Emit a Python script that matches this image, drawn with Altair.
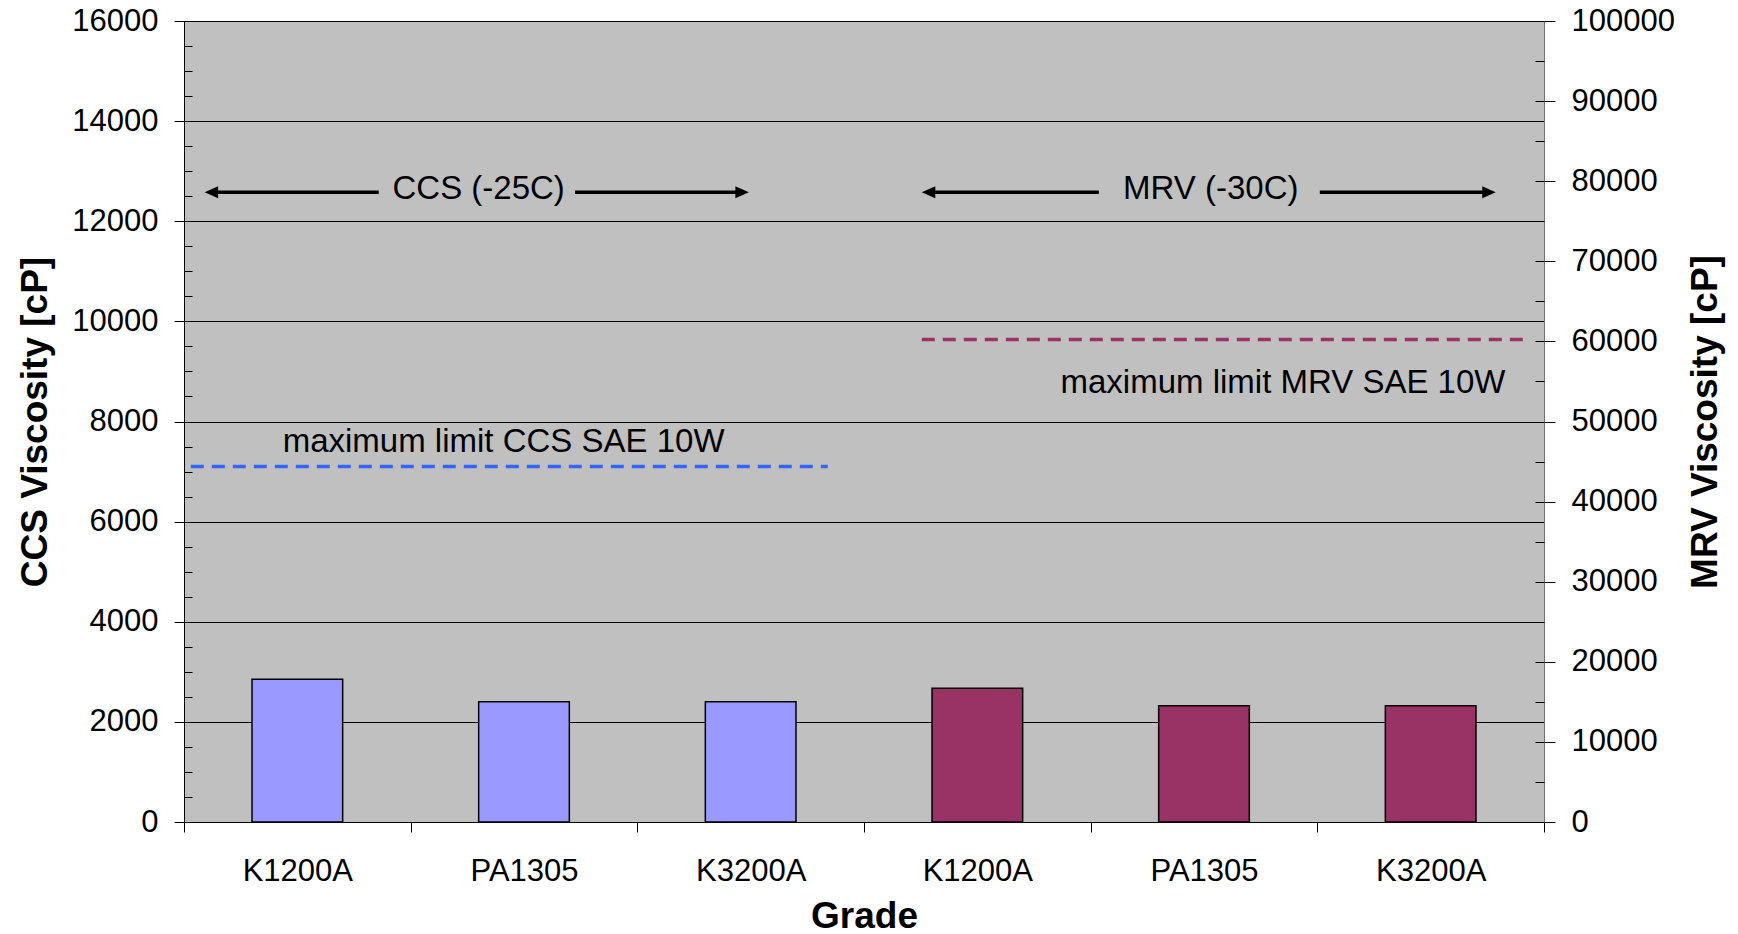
import altair as alt
import pandas as pd

# ---------------- data ----------------
grades = ["K1200A", "PA1305", "K3200A"]
ccs_values = [2850, 2400, 2400]          # cP, left axis
mrv_values = [16700, 14500, 14500]       # cP, right axis
slots = [f"CCS|{g}" for g in grades] + [f"MRV|{g}" for g in grades]

ccs_ticks = list(range(0, 16001, 2000))
ccs_minor = list(range(0, 16001, 500))
mrv_ticks = list(range(0, 100001, 10000))
mrv_minor = list(range(0, 100001, 5000))

# limit lines (x in category-slot units 0..6)
ccs_limit = [7100]
ccs_limit_x = [0.03, 2.84]
mrv_limit = [60250]
mrv_limit_x = [3.255, 5.91]

# limit labels
limit_labels = ["maximum limit CCS SAE 10W", "maximum limit MRV SAE 10W"]
limit_label_x = [1.41, 5.83]
limit_label_y = [7400, 8560]        # in CCS units
limit_label_align = ["center", "right"]

# test-range arrows
arrow_labels = ["CCS (-25C)", "MRV (-30C)"]
arrow_label_x = [1.30, 4.53]
arrow_label_y = [12440, 12440]
arrow_y = [12580, 12580]
arrow_left_tip = [0.091, 3.255]
arrow_left_end = [0.859, 4.036]
arrow_right_start = [1.725, 5.011]
arrow_right_tip = [2.492, 5.787]

FONT = "Liberation Sans"
W, H = 1360, 801

ccs_df = pd.DataFrame({"slot": slots[:3], "value": ccs_values})
mrv_df = pd.DataFrame({"slot": slots[3:], "value": mrv_values})

xband = alt.Scale(domain=slots, paddingInner=0, paddingOuter=0)
xq = alt.Scale(domain=[0, 6], nice=False, zero=False)
yccs = alt.Scale(domain=[0, 16000], nice=False)
ymrv = alt.Scale(domain=[0, 100000], nice=False)

ccs_bars = alt.Chart(ccs_df).mark_bar(
    width=alt.RelativeBandSize(0.4), fill="#9999FF", stroke="black", strokeWidth=1.5
).encode(
    x=alt.X("slot:N", scale=xband, sort=slots, axis=alt.Axis(
        tickBand="extent", labelExpr="split(datum.label, '|')[1]", labelAngle=0,
        labelFontSize=31, labelColor="black", labelPadding=24, labelFont=FONT,
        tickSize=10, tickColor="black", domainColor="black", grid=False,
        title="Grade", titleFontSize=37, titleFontWeight="bold", titleFont=FONT,
        titleColor="black", titleBaseline="alphabetic", titleY=105, titleX=W / 2,
    )),
    y=alt.Y("value:Q", scale=yccs, axis=alt.Axis(
        values=ccs_ticks, format="d", grid=True, gridColor="black", gridWidth=1,
        labelFontSize=31, labelColor="black", labelPadding=16, labelFont=FONT,
        tickSize=10, tickColor="black", domainColor="black",
        title="CCS Viscosity [cP]", titleFontSize=37, titleFontWeight="bold",
        titleFont=FONT, titleColor="black", titleAngle=270, titleBaseline="alphabetic",
        titleX=-138, titleY=H / 2, titleAlign="center",
    )),
)

mrv_bars = alt.Chart(mrv_df).mark_bar(
    width=alt.RelativeBandSize(0.4), fill="#993366", stroke="black", strokeWidth=1.5
).encode(
    x=alt.X("slot:N", scale=xband, sort=slots, axis=None),
    y=alt.Y("value:Q", scale=ymrv, axis=alt.Axis(
        orient="right", values=mrv_ticks, format="d", grid=False,
        labelFontSize=31, labelColor="black", labelPadding=16, labelFont=FONT,
        tickSize=11, tickColor="black", domainColor="#707070",
        title="MRV Viscosity [cP]", titleFontSize=37, titleFontWeight="bold",
        titleFont=FONT, titleColor="black", titleAngle=270, titleBaseline="alphabetic",
        titleX=172, titleY=H / 2, titleAlign="center",
    )),
)

ccs_line_df = pd.DataFrame({"x1": [ccs_limit_x[0]], "x2": [ccs_limit_x[1]], "y": ccs_limit})
ccs_line = alt.Chart(ccs_line_df).mark_rule(
    color="#3366FF", strokeWidth=3.5, strokeDash=[13, 8]
).encode(
    x=alt.X("x1:Q", scale=xq, axis=None), x2="x2:Q",
    y=alt.Y("y:Q", scale=yccs, axis=alt.Axis(
        orient="left", values=ccs_minor, offset=-8, tickSize=8, tickColor="black",
        labels=False, domain=False, grid=False, title=None)),
)

mrv_line_df = pd.DataFrame({"x1": [mrv_limit_x[0]], "x2": [mrv_limit_x[1]], "y": mrv_limit})
mrv_line = alt.Chart(mrv_line_df).mark_rule(
    color="#993366", strokeWidth=3.5, strokeDash=[13, 8]
).encode(
    x=alt.X("x1:Q", scale=xq, axis=None), x2="x2:Q",
    y=alt.Y("y:Q", scale=ymrv, axis=alt.Axis(
        orient="right", values=mrv_minor, offset=-9, tickSize=9, tickColor="black",
        labels=False, domain=False, grid=False, title=None)),
)

# arrows
head_len = 0.057
seg_df = pd.DataFrame({
    "x1": [t + head_len for t in arrow_left_tip] + arrow_right_start,
    "x2": arrow_left_end + [t - head_len for t in arrow_right_tip],
    "y": arrow_y + arrow_y,
})
arrow_lines = alt.Chart(seg_df).mark_rule(color="black", strokeWidth=3.5).encode(
    x=alt.X("x1:Q", scale=xq, axis=None), x2="x2:Q",
    y=alt.Y("y:Q", scale=yccs, axis=None),
)
left_heads = alt.Chart(pd.DataFrame({"x": arrow_left_tip, "y": arrow_y})).mark_point(
    shape="M0,0L1.35,-0.6L1.35,0.6Z", filled=True, size=400, color="black", opacity=1
).encode(x=alt.X("x:Q", scale=xq, axis=None), y=alt.Y("y:Q", scale=yccs, axis=None))
right_heads = alt.Chart(pd.DataFrame({"x": arrow_right_tip, "y": arrow_y})).mark_point(
    shape="M0,0L-1.35,-0.6L-1.35,0.6Z", filled=True, size=400, color="black", opacity=1
).encode(x=alt.X("x:Q", scale=xq, axis=None), y=alt.Y("y:Q", scale=yccs, axis=None))

arrow_text = alt.Chart(pd.DataFrame({"t": arrow_labels, "x": arrow_label_x, "y": arrow_label_y})).mark_text(
    font=FONT, fontSize=33, color="black", baseline="alphabetic", align="center"
).encode(x=alt.X("x:Q", scale=xq, axis=None), y=alt.Y("y:Q", scale=yccs, axis=None), text="t:N")

lim_df = pd.DataFrame({"t": limit_labels, "x": limit_label_x, "y": limit_label_y})
lim_text_c = alt.Chart(lim_df.iloc[[0]]).mark_text(
    font=FONT, fontSize=33, color="black", baseline="alphabetic", align=limit_label_align[0]
).encode(x=alt.X("x:Q", scale=xq, axis=None), y=alt.Y("y:Q", scale=yccs, axis=None), text="t:N")
lim_text_m = alt.Chart(lim_df.iloc[[1]]).mark_text(
    font=FONT, fontSize=33, color="black", baseline="alphabetic", align=limit_label_align[1]
).encode(x=alt.X("x:Q", scale=xq, axis=None), y=alt.Y("y:Q", scale=yccs, axis=None), text="t:N")

chart = alt.layer(
    ccs_bars, mrv_bars, ccs_line, mrv_line, arrow_lines, left_heads, right_heads,
    arrow_text, lim_text_c, lim_text_m,
).resolve_scale(x="independent", y="independent").properties(
    width=W, height=H,
    autosize=alt.AutoSizeParams(type="none"),
    padding={"left": 184, "top": 21, "right": 194, "bottom": 112},
    background="white",
).configure(font=FONT).configure_view(
    fill="#C0C0C0", stroke="#808080", strokeWidth=1
)

chart.save("out.html", embed_options={"renderer": "svg", "actions": False})
